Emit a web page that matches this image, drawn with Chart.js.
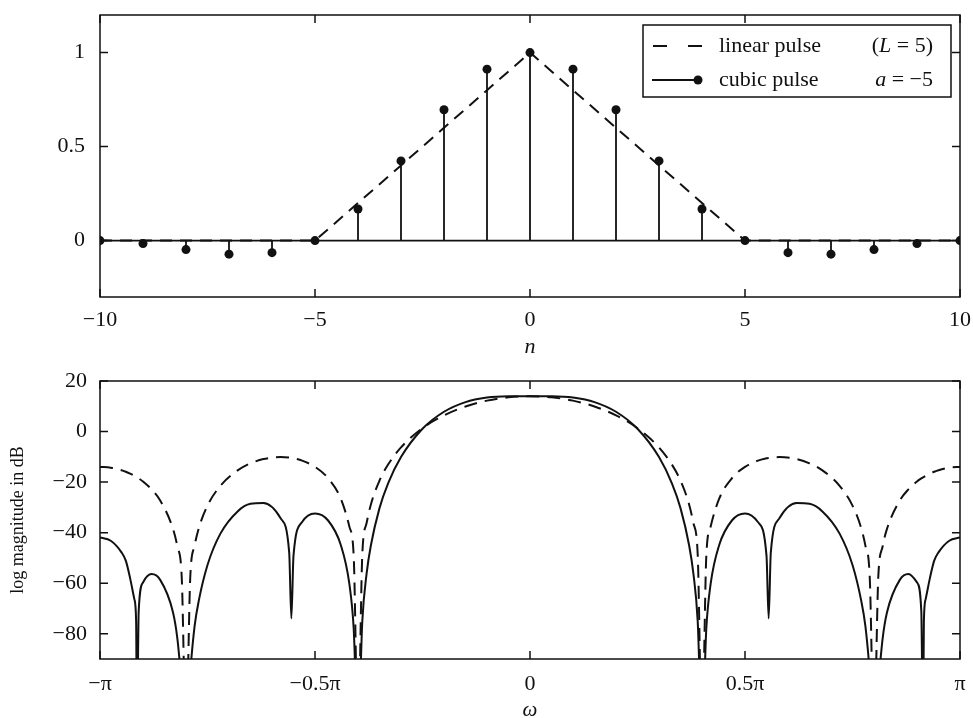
<!DOCTYPE html>
<html>
<head>
<meta charset="utf-8">
<script src="https://cdn.jsdelivr.net/npm/chart.js@4.4.1/dist/chart.umd.min.js"></script>
<style>
  html, body { margin: 0; padding: 0; background: #fff; }
  #wrap { position: relative; width: 973px; height: 718px; overflow: hidden; }
  #top { position: absolute; left: 0; top: 0; }
  #bottom { position: absolute; left: 0; top: 365px; }
</style>
</head>
<body>
<div id="wrap">
  <canvas id="top" width="973" height="365"></canvas>
  <canvas id="bottom" width="973" height="353"></canvas>
</div>
<script>
// pulse samples h[n], n = -10..10
const nValues = [-10, -9, -8, -7, -6, -5, -4, -3, -2, -1, 0, 1, 2, 3, 4, 5, 6, 7, 8, 9, 10];
const cubicPulse = [0, -0.016, -0.048, -0.072, -0.064, 0, 0.168, 0.424, 0.696, 0.912, 1,
                    0.912, 0.696, 0.424, 0.168, 0, -0.064, -0.072, -0.048, -0.016, 0];
const linearPulse = [0, 0, 0, 0, 0, 0, 0.2, 0.4, 0.6, 0.8, 1,
                     0.8, 0.6, 0.4, 0.2, 0, 0, 0, 0, 0, 0];

// frequency responses, omega in units of pi, magnitude in dB
const omegaOverPi = [
  -1, -0.975, -0.95, -0.94, -0.93, -0.92, -0.916, -0.914, -0.91, -0.9, -0.88, -0.86, -0.83, -0.82, -0.81, -0.8,
  -0.79, -0.78, -0.77, -0.75, -0.72, -0.68, -0.65, -0.62, -0.58, -0.56, -0.555, -0.55, -0.53,
  -0.5, -0.47, -0.44, -0.42, -0.41, -0.4, -0.39, -0.38, -0.37, -0.35, -0.33, -0.3, -0.25,
  -0.2, -0.15, -0.1, -0.05, 0,
  0.05, 0.1, 0.15, 0.2, 0.25, 0.3, 0.33, 0.35, 0.37, 0.38, 0.39, 0.4, 0.41, 0.42, 0.44,
  0.47, 0.5, 0.53, 0.55, 0.555, 0.56, 0.58, 0.62, 0.65, 0.68, 0.72, 0.75, 0.77, 0.78, 0.79,
  0.8, 0.81, 0.82, 0.83, 0.86, 0.88, 0.9, 0.91, 0.914, 0.916, 0.92, 0.93, 0.94, 0.95, 0.975, 1
];
const linearDb = [
  -13.98, -14.3, -15.3, -15.91, -16.64, -17.52, -17.9, -18.13, -18.56, -19.78, -22.9, -27.27, -38.62, -45.5, -57.41, -120,
  -57.23, -45.15, -38.09, -29.29, -21.47, -15.37, -12.59, -10.9, -10.11, -10.32, -10.45, -10.6, -11.51,
  -13.98, -18.38, -26.56, -37.7, -49.3, -120, -48.6, -36.2, -28.83, -19.39, -13.06, -6.28, 1.33,
  6.42, 9.92, 12.23, 13.55, 13.98,
  13.55, 12.23, 9.92, 6.42, 1.33, -6.28, -13.06, -19.39, -28.83, -36.2, -48.6, -120, -49.3, -37.7, -26.56,
  -18.38, -13.98, -11.51, -10.6, -10.45, -10.32, -10.11, -10.9, -12.59, -15.37, -21.47, -29.29, -38.09, -45.15, -57.23,
  -120, -57.41, -45.5, -38.62, -27.27, -22.9, -19.78, -18.56, -18.13, -17.9, -17.52, -16.64, -15.91, -15.3, -14.3, -13.98
];
const cubicDb = [
  -41.9, -43.2, -47.8, -51.1, -58.0, -66.4, -75, -120, -71, -59.7, -56.4, -58.7, -71.7, -82, -100, -120,
  -95, -77, -66.7, -52.8, -40.4, -31.6, -28.6, -28.3, -34.3, -47.9, -74, -49.1, -35.8,
  -32.4, -35.1, -44.9, -60.4, -78, -120, -75, -56.2, -45.0, -30.3, -20.5, -10.11, 1.09,
  7.83, 11.66, 13.43, 13.94, 13.98,
  13.94, 13.43, 11.66, 7.83, 1.09, -10.11, -20.5, -30.3, -45.0, -56.2, -75, -120, -78, -60.4, -44.9,
  -35.1, -32.4, -35.8, -49.1, -74, -47.9, -34.3, -28.3, -28.6, -31.6, -40.4, -52.8, -66.7, -77, -95,
  -120, -100, -82, -71.7, -58.7, -56.4, -59.7, -71, -120, -75, -66.4, -58.0, -51.1, -47.8, -43.2, -41.9
];

// axis ticks
const nTicks = [-10, -5, 0, 5, 10];
const ampTicks = [0, 0.5, 1];
const omegaTicks = [-1, -0.5, 0, 0.5, 1];
const omegaTickLabels = ['\u2212\u03c0', '\u22120.5\u03c0', '0', '0.5\u03c0', '\u03c0'];
const dbTicks = [-80, -60, -40, -20, 0, 20];

const serif = "'Liberation Serif', 'Times New Roman', serif";
const ink = '#111';
Chart.defaults.font.family = serif;
Chart.defaults.color = ink;

function fmt(v) { return String(v).replace('-', '\u2212'); }
function pts(xs, ys) { return xs.map((x, i) => ({ x: x, y: ys[i] })); }

// fixed axis boxes so both plot areas line up
function fixX(h) {
  return s => { s.height = h; s.paddingLeft = 0; s.paddingRight = 0; };
}
function fixY(s) { s.width = 100; s.paddingTop = 0; s.paddingBottom = 0; }

// box round the plot area with inward ticks on all four sides
const frame = {
  id: 'frame',
  afterDatasetsDraw(chart) {
    const { ctx, chartArea: a, scales: { x, y } } = chart;
    ctx.save();
    ctx.strokeStyle = ink;
    ctx.lineWidth = 1.5;
    ctx.strokeRect(a.left, a.top, a.right - a.left, a.bottom - a.top);
    ctx.beginPath();
    x.ticks.forEach(t => {
      const px = x.getPixelForValue(t.value);
      ctx.moveTo(px, a.bottom); ctx.lineTo(px, a.bottom - 8);
      ctx.moveTo(px, a.top); ctx.lineTo(px, a.top + 8);
    });
    y.ticks.forEach(t => {
      const py = y.getPixelForValue(t.value);
      ctx.moveTo(a.left, py); ctx.lineTo(a.left + 8, py);
      ctx.moveTo(a.right, py); ctx.lineTo(a.right - 8, py);
    });
    ctx.stroke();
    ctx.restore();
  }
};

// baseline and stems under the cubic pulse dots
const stems = {
  id: 'stems',
  beforeDatasetsDraw(chart) {
    const { ctx, chartArea: a, scales: { y } } = chart;
    const y0 = y.getPixelForValue(0);
    ctx.save();
    ctx.strokeStyle = ink;
    ctx.lineWidth = 1.8;
    ctx.beginPath();
    ctx.moveTo(a.left, y0); ctx.lineTo(a.right, y0);
    chart.getDatasetMeta(1).data.forEach(p => {
      ctx.moveTo(p.x, y0); ctx.lineTo(p.x, p.y);
    });
    ctx.stroke();
    ctx.restore();
  }
};

// legend box in the upper right corner
const legendBox = {
  id: 'legendBox',
  afterDraw(chart) {
    const ctx = chart.ctx;
    const left = 643, top = 25, right = 951, bottom = 97;
    const r1 = 46, r2 = 80;
    ctx.save();
    ctx.fillStyle = '#fff';
    ctx.fillRect(left, top, right - left, bottom - top);
    ctx.strokeStyle = ink;
    ctx.lineWidth = 1.5;
    ctx.strokeRect(left, top, right - left, bottom - top);

    ctx.lineWidth = 2;
    ctx.beginPath();
    ctx.moveTo(653, r1); ctx.lineTo(667, r1);
    ctx.moveTo(688, r1); ctx.lineTo(702, r1);
    ctx.moveTo(652, r2); ctx.lineTo(698, r2);
    ctx.stroke();
    ctx.fillStyle = ink;
    ctx.beginPath();
    ctx.arc(698, r2, 4.5, 0, Math.PI * 2);
    ctx.fill();

    ctx.textBaseline = 'middle';
    ctx.textAlign = 'left';
    const plain = '22px ' + serif, ital = 'italic 22px ' + serif;
    function widthOf(parts) {
      return parts.reduce((w, [txt, f]) => { ctx.font = f; return w + ctx.measureText(txt).width; }, 0);
    }
    function run(parts, x, y) {
      parts.forEach(([txt, f]) => {
        ctx.font = f;
        ctx.fillText(txt, x, y);
        x += ctx.measureText(txt).width;
      });
    }
    const note1 = [['(', plain], ['L', ital], [' = 5)', plain]];
    const note2 = [['a', ital], [' = \u22125', plain]];
    run([['linear pulse', plain]], 719, r1);
    run(note1, 933 - widthOf(note1), r1);
    run([['cubic pulse', plain]], 719, r2);
    run(note2, 933 - widthOf(note2), r2);
    ctx.restore();
  }
};

const tickFont = { family: serif, size: 22 };

new Chart(document.getElementById('top'), {
  type: 'line',
  data: {
    datasets: [
      {
        label: 'linear pulse',
        data: pts(nValues, linearPulse),
        borderColor: ink,
        borderWidth: 2,
        borderDash: [12, 8],
        pointRadius: 0,
        fill: false
      },
      {
        label: 'cubic pulse',
        data: pts(nValues, cubicPulse),
        showLine: false,
        pointRadius: 4.5,
        pointBorderWidth: 0,
        pointBackgroundColor: ink
      }
    ]
  },
  options: {
    responsive: false,
    animation: false,
    devicePixelRatio: 1,
    events: [],
    layout: { padding: { top: 15, right: 13, left: 0, bottom: 0 } },
    plugins: { legend: { display: false }, tooltip: { enabled: false } },
    scales: {
      x: {
        type: 'linear',
        min: -10,
        max: 10,
        afterBuildTicks: s => { s.ticks = nTicks.map(v => ({ value: v })); },
        afterFit: fixX(68),
        grid: { display: false, drawTicks: false },
        border: { display: false },
        ticks: { font: tickFont, color: ink, padding: 10, maxRotation: 0, autoSkip: false, callback: v => fmt(v) },
        title: { display: true, text: 'n', color: ink, font: { family: serif, size: 22, style: 'italic' }, padding: { top: 0, bottom: 5 } }
      },
      y: {
        min: -0.3,
        max: 1.2,
        afterBuildTicks: s => { s.ticks = ampTicks.map(v => ({ value: v })); },
        afterFit: fixY,
        grid: { display: false, drawTicks: false },
        border: { display: false },
        ticks: { font: tickFont, color: ink, padding: 15, callback: v => fmt(v) }
      }
    }
  },
  plugins: [stems, frame, legendBox]
});

new Chart(document.getElementById('bottom'), {
  type: 'line',
  data: {
    datasets: [
      {
        label: 'linear pulse',
        data: pts(omegaOverPi, linearDb),
        borderColor: ink,
        borderWidth: 2,
        borderDash: [13, 8],
        cubicInterpolationMode: 'monotone',
        pointRadius: 0,
        fill: false
      },
      {
        label: 'cubic pulse',
        data: pts(omegaOverPi, cubicDb),
        borderColor: ink,
        borderWidth: 2,
        cubicInterpolationMode: 'monotone',
        pointRadius: 0,
        fill: false
      }
    ]
  },
  options: {
    responsive: false,
    animation: false,
    devicePixelRatio: 1,
    events: [],
    layout: { padding: { top: 16, right: 13, left: 0, bottom: 0 } },
    plugins: { legend: { display: false }, tooltip: { enabled: false } },
    scales: {
      x: {
        type: 'linear',
        min: -1,
        max: 1,
        afterBuildTicks: s => { s.ticks = omegaTicks.map(v => ({ value: v })); },
        afterFit: fixX(59),
        grid: { display: false, drawTicks: false },
        border: { display: false },
        ticks: {
          font: tickFont, color: ink, padding: 12, maxRotation: 0, autoSkip: false,
          callback: v => omegaTickLabels[omegaTicks.indexOf(v)]
        },
        title: { display: true, text: '\u03c9', color: ink, font: { family: serif, size: 21, style: 'italic', lineHeight: 1 }, padding: { top: 0, bottom: -3 } }
      },
      y: {
        min: -90,
        max: 20,
        afterBuildTicks: s => { s.ticks = dbTicks.map(v => ({ value: v })); },
        afterFit: fixY,
        grid: { display: false, drawTicks: false },
        border: { display: false },
        ticks: { font: tickFont, color: ink, padding: 13, callback: v => fmt(v) },
        title: { display: true, text: 'log magnitude in dB', color: ink, font: { family: serif, size: 18 }, padding: { top: 7, bottom: 0 } }
      }
    }
  },
  plugins: [frame]
});
</script>
</body>
</html>
